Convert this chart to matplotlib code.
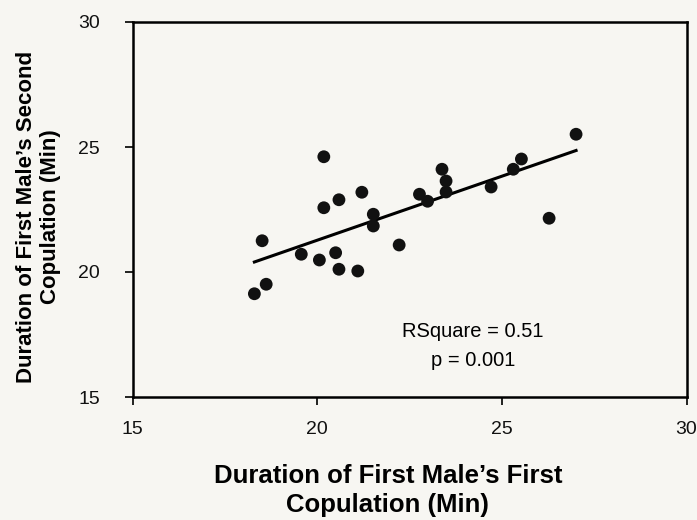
import matplotlib
matplotlib.use("Agg")
import matplotlib.pyplot as plt

# Duration of first male's first copulation (min) vs second copulation (min)
first_cop = [18.30, 18.62, 18.51, 19.57, 20.06, 20.18, 20.18, 20.59, 20.50, 20.59,
             21.10, 21.21, 21.52, 21.52, 22.22, 22.77, 22.99, 23.38, 23.49, 23.49,
             24.71, 25.31, 25.53, 26.28, 27.01]
second_cop = [19.13, 19.51, 21.25, 20.71, 20.48, 24.61, 22.57, 22.89, 20.77, 20.11,
              20.04, 23.19, 22.31, 21.84, 21.08, 23.11, 22.83, 24.11, 23.64, 23.20,
              23.40, 24.11, 24.52, 22.15, 25.51]

# regression line end points
fit_x = [18.30, 27.01]
fit_y = [20.40, 24.86]

x_ticks = [15, 20, 25, 30]
y_ticks = [15, 20, 25, 30]

bg = "#f7f6f2"
plt.rcParams["font.family"] = ["Liberation Sans", "DejaVu Sans"]

fig = plt.figure(figsize=(6.97, 5.20), dpi=100, facecolor=bg)
ax = fig.add_axes([132.5 / 697, 1 - 397 / 520, (686.5 - 132.5) / 697, (397 - 22) / 520])
ax.set_facecolor(bg)

ax.plot(fit_x, fit_y, color="black", lw=2.2, zorder=2)
ax.scatter(first_cop, second_cop, s=85, color="#111111", edgecolors="none", zorder=3)

ax.set_xlim(15, 30)
ax.set_ylim(15, 30)
ax.set_xticks(x_ticks)
ax.set_yticks(y_ticks)
ax.tick_params(direction="out", length=5.5, width=1.3, labelsize=14, colors="#111111")
ax.tick_params(axis="x", pad=12)
ax.tick_params(axis="y", pad=18)
for s in ax.spines.values():
    s.set_linewidth(1.8)

ax.set_xlabel("Duration of First Male\u2019s First\nCopulation (Min)",
              fontsize=18.5, fontweight="bold", linespacing=1.25)
ax.xaxis.set_label_coords(0.461, -0.25, transform=ax.transAxes)
ax.xaxis.label.set_va("center")
ax.set_ylabel("Duration of First Male\u2019s Second\nCopulation (Min)",
              fontsize=16, fontweight="bold", linespacing=1.2)
ax.yaxis.set_label_coords(-0.169, 0.48, transform=ax.transAxes)
ax.yaxis.label.set_va("center")

ax.text(24.22, 17.6, "RSquare = 0.51", ha="center", va="center", fontsize=14.5)
ax.text(24.22, 16.48, "p = 0.001", ha="center", va="center", fontsize=14.5)

fig.savefig("out.png", dpi=100, facecolor=bg)
